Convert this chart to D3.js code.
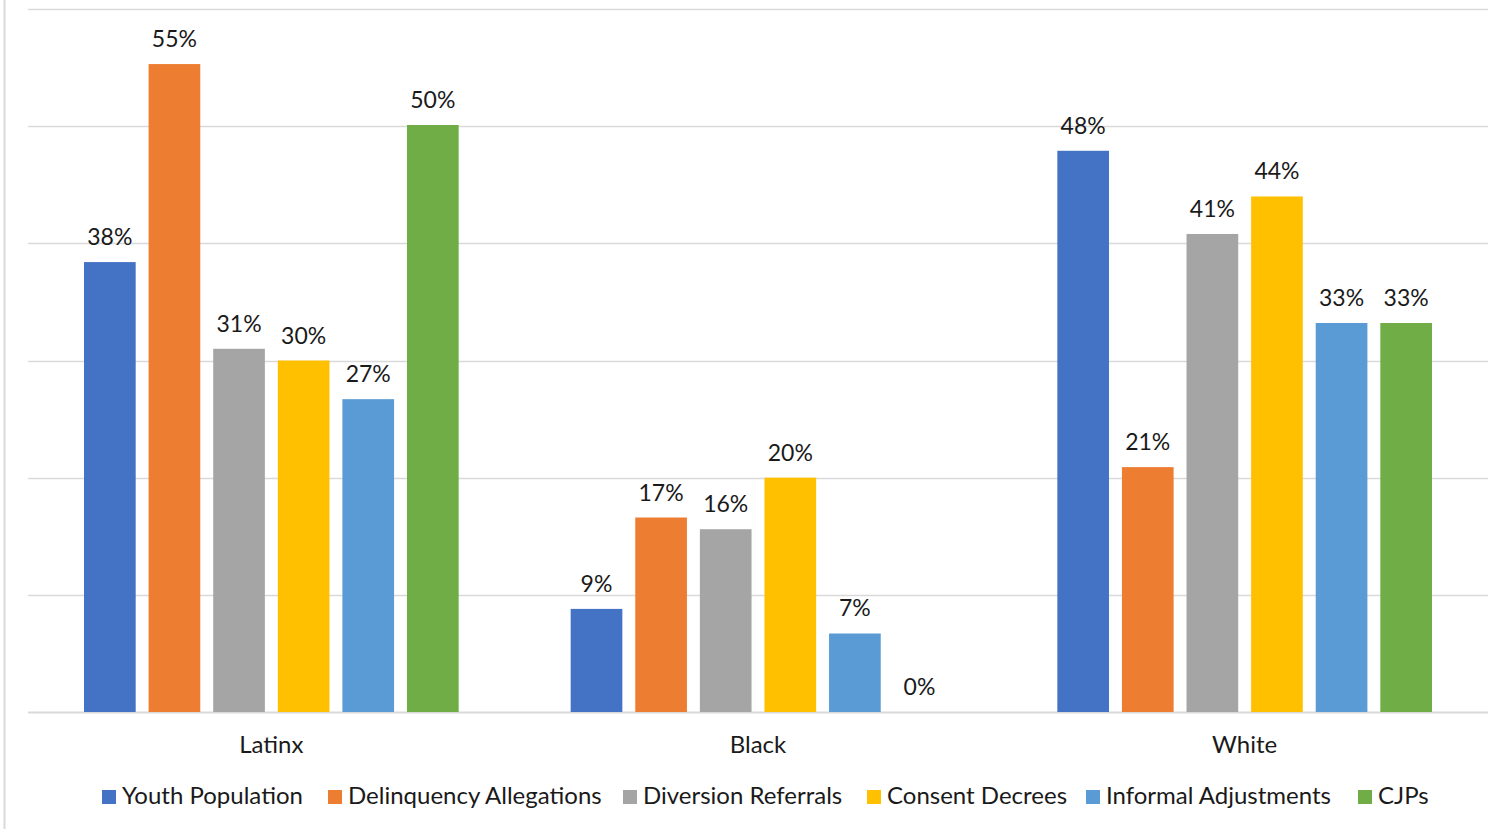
<!DOCTYPE html>
<html>
<head>
<meta charset="utf-8">
<script src="https://cdn.jsdelivr.net/npm/d3@7"></script>
<style>
  body { margin: 0; background: #fff; }
  text { font-family: Lato, "Open Sans", sans-serif; fill: #1a1a1a; }
</style>
</head>
<body>
<svg id="chart" width="1510" height="829"></svg>
<script>
// groups on the x axis
var groups = [ 'Latinx', 'Black', 'White' ];

// series names and colours, in legend order
var seriesNames = [ 'Youth Population', 'Delinquency Allegations', 'Diversion Referrals',
	'Consent Decrees', 'Informal Adjustments', 'CJPs' ];
var seriesColors = [ '#4472c4', '#ed7d31', '#a5a5a5', '#ffc000', '#5b9bd5', '#70ad47' ];

// percentages per series, one value per group (Latinx, Black, White)
var youthPopulation = [ 38.4, 8.8, 47.9 ];
var delinquencyAllegations = [ 55.3, 16.6, 20.9 ];
var diversionReferrals = [ 31.0, 15.6, 40.8 ];
var consentDecrees = [ 30.0, 20.0, 44.0 ];
var informalAdjustments = [ 26.7, 6.7, 33.2 ];
var cjps = [ 50.1, 0, 33.2 ];

var gridTicks = [ 0, 10, 20, 30, 40, 50, 60 ];

var seriesValues = [ youthPopulation, delinquencyAllegations, diversionReferrals,
	consentDecrees, informalAdjustments, cjps ];

var svg = d3.select( '#chart' );

// light frame edge on the left
svg.append( 'line' )
	.attr( 'x1', 4.5 ).attr( 'x2', 4.5 )
	.attr( 'y1', 0 ).attr( 'y2', 829 )
	.attr( 'stroke', '#d9d9d9' )
	.attr( 'stroke-width', 2 );

var margin = { top: 9, right: 22, bottom: 117, left: 28 };
var width = 1510 - margin.left - margin.right;
var height = 829 - margin.top - margin.bottom;

var g = svg.append( 'g' )
	.attr( 'transform', 'translate(' + margin.left + ',' + margin.top + ')' );

var x0 = d3.scaleBand()
	.domain( groups )
	.range( [ 0, width ] );

var x1 = d3.scaleBand()
	.domain( d3.range( seriesNames.length ) )
	.range( [ 56, x0.bandwidth() - 56 ] )
	.paddingInner( 0.2 )
	.paddingOuter( 0 );

var y = d3.scaleLinear()
	.domain( [ 0, 60 ] )
	.range( [ height, 0 ] );

// horizontal gridlines
g.append( 'g' )
	.selectAll( 'line' )
	.data( gridTicks )
	.enter().append( 'line' )
	.attr( 'x1', 0 )
	.attr( 'x2', width )
	.attr( 'y1', function( d ) { return Math.round( y( d ) ) + 0.5; } )
	.attr( 'y2', function( d ) { return Math.round( y( d ) ) + 0.5; } )
	.attr( 'stroke', '#d9d9d9' )
	.attr( 'stroke-width', function( d ) { return d === 0 ? 2 : 1.5; } );

// bars
var groupG = g.selectAll( '.group' )
	.data( groups )
	.enter().append( 'g' )
	.attr( 'class', 'group' )
	.attr( 'transform', function( d ) { return 'translate(' + x0( d ) + ',0)'; } );

groupG.selectAll( 'rect' )
	.data( function( d, gi ) {
		return seriesValues.map( function( vals, si ) { return { s: si, v: vals[ gi ] }; } );
	} )
	.enter().append( 'rect' )
	.attr( 'x', function( d ) { return x1( d.s ); } )
	.attr( 'width', x1.bandwidth() )
	.attr( 'y', function( d ) { return y( d.v ); } )
	.attr( 'height', function( d ) { return height - y( d.v ); } )
	.attr( 'fill', function( d ) { return seriesColors[ d.s ]; } );

// value labels
groupG.selectAll( 'text.val' )
	.data( function( d, gi ) {
		return seriesValues.map( function( vals, si ) { return { s: si, v: vals[ gi ] }; } );
	} )
	.enter().append( 'text' )
	.attr( 'class', 'val' )
	.attr( 'x', function( d ) { return x1( d.s ) + x1.bandwidth() / 2; } )
	.attr( 'y', function( d ) { return y( d.v ) - 17; } )
	.attr( 'text-anchor', 'middle' )
	.attr( 'font-size', 23 )
	.text( function( d ) { return Math.round( d.v ) + '%'; } );

// category axis labels
g.append( 'g' )
	.selectAll( 'text' )
	.data( groups )
	.enter().append( 'text' )
	.attr( 'x', function( d ) { return x0( d ) + x0.bandwidth() / 2; } )
	.attr( 'y', height + 41 )
	.attr( 'text-anchor', 'middle' )
	.attr( 'font-size', 24 )
	.text( function( d ) { return d; } );

// legend
var legendX = [ 102, 328, 623, 867, 1086, 1358 ];
var legend = svg.append( 'g' )
	.selectAll( 'g' )
	.data( seriesNames )
	.enter().append( 'g' )
	.attr( 'transform', function( d, i ) { return 'translate(' + legendX[ i ] + ',790)'; } );

legend.append( 'rect' )
	.attr( 'width', 14 )
	.attr( 'height', 14 )
	.attr( 'fill', function( d, i ) { return seriesColors[ i ]; } );

legend.append( 'text' )
	.attr( 'x', 20 )
	.attr( 'y', 14 )
	.attr( 'font-size', 24 )
	.text( function( d ) { return d; } );
</script>
</body>
</html>
